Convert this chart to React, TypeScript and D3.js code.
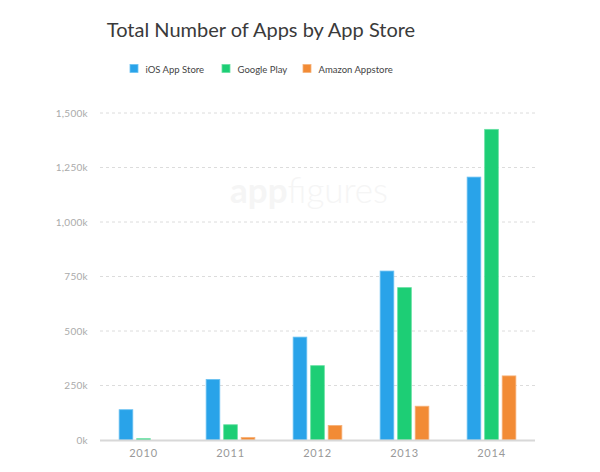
import React, { useEffect, useRef } from "react";
import * as d3 from "d3";

const years = ["2010", "2011", "2012", "2013", "2014"];
const seriesNames = ["iOS App Store", "Google Play", "Amazon Appstore"];
const iosValues = [139, 278, 472, 775, 1206];
const googleValues = [6, 70, 341, 699, 1425];
const amazonValues = [0, 12, 67, 155, 294];
const yTicks = [0, 250, 500, 750, 1000, 1250, 1500];
const colors = ["#29a3e9", "#1dce75", "#f28b35"];
const strokes = ["#6cc2f2", "#66e0a2", "#f6b27a"];

function drawChart(el: SVGSVGElement) {
  const width = 600;
  const height = 472;
  const margin = { top: 113, right: 65, bottom: 32, left: 100 };
  const fontFamily = "Lato, 'Open Sans', sans-serif";

  const svg = d3.select(el);
  svg.selectAll("*").remove();

  const values = [iosValues, googleValues, amazonValues];

  const x = d3
    .scaleBand()
    .domain(years)
    .range([margin.left, width - margin.right])
    .paddingInner(0.44)
    .paddingOuter(0.22);

  const xInner = d3.scaleBand().domain(seriesNames).range([0, x.bandwidth()]).paddingInner(0.22);

  const y = d3
    .scaleLinear()
    .domain([0, 1500])
    .range([height - margin.bottom, margin.top]);

  // title
  svg
    .append("text")
    .attr("x", 261)
    .attr("y", 37)
    .attr("text-anchor", "middle")
    .attr("font-family", fontFamily)
    .attr("font-size", 20)
    .attr("font-weight", 400)
    .attr("fill", "#3a3a3a")
    .text("Total Number of Apps by App Store");

  // legend
  const legendX = [130, 222, 303];
  const legend = svg.append("g");
  seriesNames.forEach((name, i) => {
    legend
      .append("rect")
      .attr("x", legendX[i])
      .attr("y", 64.5)
      .attr("width", 8)
      .attr("height", 8)
      .attr("fill", colors[i])
      .attr("stroke", strokes[i])
      .attr("stroke-width", 0.8);
    legend
      .append("text")
      .attr("x", legendX[i] + 15.5)
      .attr("y", 72.5)
      .attr("font-family", fontFamily)
      .attr("font-size", 9.5)
      .attr("fill", "#444")
      .text(name);
  });

  // watermark
  const wm = svg
    .append("text")
    .attr("x", 230)
    .attr("y", 203)
    .attr("font-family", fontFamily)
    .attr("font-size", 35)
    .attr("fill", "#f5f5f5");
  wm.append("tspan").attr("font-weight", 700).text("app");
  wm.append("tspan").attr("font-weight", 300).text("figures");

  // gridlines + y labels
  const grid = svg.append("g");
  yTicks.forEach((t) => {
    if (t > 0) {
      grid
        .append("line")
        .attr("x1", margin.left)
        .attr("x2", width - margin.right)
        .attr("y1", y(t))
        .attr("y2", y(t))
        .attr("stroke", "#dcdcdc")
        .attr("stroke-width", 1)
        .attr("stroke-dasharray", "3,3");
    }
    grid
      .append("text")
      .attr("x", 88)
      .attr("y", y(t) + 3.5)
      .attr("text-anchor", "end")
      .attr("font-family", fontFamily)
      .attr("font-size", 10)
      .attr("letter-spacing", 0.3)
      .attr("fill", "#aaa")
      .text(d3.format(",")(t) + "k");
  });

  // bars
  values.forEach((series, si) => {
    svg
      .append("g")
      .selectAll("rect")
      .data(series.map((v, i) => ({ year: years[i], v })).filter((d) => d.v > 0))
      .enter()
      .append("rect")
      .attr("x", (d) => (x(d.year) as number) + (xInner(seriesNames[si]) as number))
      .attr("y", (d) => y(d.v))
      .attr("width", xInner.bandwidth())
      .attr("height", (d) => y(0) - y(d.v))
      .attr("fill", colors[si])
      .attr("stroke", strokes[si])
      .attr("stroke-width", 0.8);
  });

  // baseline
  svg
    .append("line")
    .attr("x1", margin.left)
    .attr("x2", width - margin.right)
    .attr("y1", y(0) + 0.5)
    .attr("y2", y(0) + 0.5)
    .attr("stroke", "#d8d8d8")
    .attr("stroke-width", 2);

  // x labels
  svg
    .append("g")
    .selectAll("text")
    .data(years)
    .enter()
    .append("text")
    .attr("x", (d) => (x(d) as number) + x.bandwidth() / 2)
    .attr("y", 457)
    .attr("text-anchor", "middle")
    .attr("font-family", fontFamily)
    .attr("font-size", 11)
    .attr("letter-spacing", 0.8)
    .attr("fill", "#999")
    .text((d) => d);
}

export default function App() {
  const ref = useRef<SVGSVGElement>(null);
  useEffect(() => {
    if (ref.current) drawChart(ref.current);
  }, []);
  return (
    <svg
      ref={ref}
      width={600}
      height={472}
      style={{ position: "absolute", left: 0, top: 0, background: "#fff" }}
    />
  );
}
